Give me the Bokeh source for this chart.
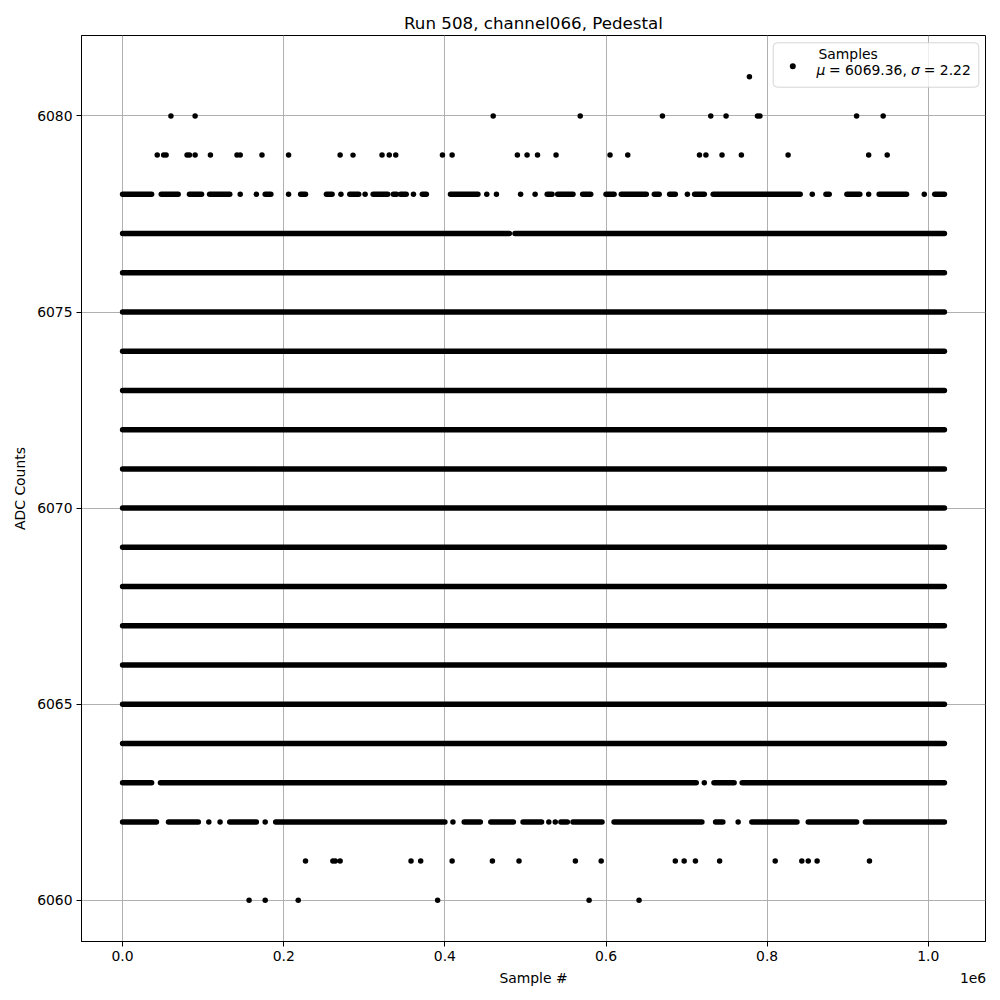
from bokeh.plotting import figure
from bokeh.models import Range1d, FixedTicker, Label, BoxAnnotation, LinearAxis
from bokeh.embed import file_html
from bokeh.resources import INLINE

FONT = "DejaVu Sans"
TITLE = "Run 508, channel066, Pedestal"
X_LABEL = "Sample #"
Y_LABEL = "ADC Counts"
X_TICKS = [0, 200000, 400000, 600000, 800000, 1000000]
X_TICK_LABELS = ["0.0", "0.2", "0.4", "0.6", "0.8", "1.0"]
X_OFFSET_TEXT = "1e6"
Y_TICKS = [6060, 6065, 6070, 6075, 6080]
LEGEND_NAME = "Samples"
MEAN = 6069.36
SIGMA = 2.22
LAST_SAMPLE_K = 1020          # samples run from 0 to ~1,020,000

# ADC levels whose samples cover the whole run (thousands of samples)
full_levels = [6064, 6065, 6066, 6067, 6068, 6069, 6070, 6071, 6072, 6073, 6074, 6075, 6076]

# levels with gaps: runs of consecutive samples (start_k, end_k); start==end is a lone sample
runs_6077 = [(0, 480), (487, 1020)]
runs_6078 = [(0, 36), (48, 69), (83, 98), (108, 133), (146, 146), (166, 166), (177, 184),
             (206, 206), (221, 227), (253, 260), (271, 271), (282, 293), (301, 301),
             (311, 329), (336, 340), (345, 352), (361, 361), (372, 377), (407, 441),
             (452, 452), (464, 464), (494, 494), (512, 512), (527, 533), (540, 559),
             (571, 581), (600, 610), (619, 650), (660, 666), (679, 686), (701, 701),
             (710, 722), (733, 841), (856, 856), (873, 877), (899, 915), (926, 926),
             (939, 973), (995, 995), (1008, 1020)]
runs_6063 = [(0, 36), (47, 712), (722, 722), (734, 759), (769, 1020)]
runs_6062 = [(0, 42), (57, 94), (107, 107), (121, 121), (133, 166), (177, 177), (190, 400),
             (410, 410), (424, 444), (457, 485), (497, 520), (529, 529), (537, 537),
             (544, 552), (559, 595), (610, 719), (736, 745), (764, 764), (781, 837),
             (851, 911), (922, 1020)]

# isolated samples (thousands of samples)
x_6081 = [778]
x_6080 = [60, 90, 460, 568, 670, 730, 749, 788, 791, 911, 944]
x_6079 = [43, 51, 54, 80, 83, 90, 109, 142, 146, 173, 206, 270, 286, 322, 331, 339, 397,
          409, 490, 502, 515, 538, 605, 627, 716, 724, 744, 768, 826, 926, 949]
x_6061 = [227, 261, 264, 270, 358, 370, 409, 459, 492, 562, 594, 686, 697, 711, 741, 810,
          843, 851, 862, 927]
x_6060 = [157, 177, 218, 391, 579, 641]

# ---- assemble glyph data ----
level_runs = [(lv, [(0, LAST_SAMPLE_K)]) for lv in full_levels]
level_runs += [(6077, runs_6077), (6078, runs_6078), (6063, runs_6063), (6062, runs_6062)]
lone = [(6081, x_6081), (6080, x_6080), (6079, x_6079), (6061, x_6061), (6060, x_6060)]

seg_x0, seg_x1, seg_y = [], [], []
pt_x, pt_y = [], []
for lv, runs in level_runs:
    for a, b in runs:
        if b > a:
            seg_x0.append(a * 1000); seg_x1.append(b * 1000); seg_y.append(lv)
        else:
            pt_x.append(a * 1000); pt_y.append(lv)
for lv, xs in lone:
    for a in xs:
        pt_x.append(a * 1000); pt_y.append(lv)

span = LAST_SAMPLE_K * 1000
x_lo, x_hi = -0.05 * span, 1.05 * span
FRAME_W = 1000 - 81 - 15
p = figure(width=1000, height=1000, output_backend="svg", toolbar_location=None,
           x_range=Range1d(x_lo, x_hi),
           y_range=Range1d(6060 - 0.05 * 21, 6081 + 0.05 * 21),
           min_border_left=81, min_border_right=15, min_border_top=35, min_border_bottom=59,
           title=TITLE)
p.background_fill_color = "white"
p.border_fill_color = "white"
p.outline_line_color = "black"
p.outline_line_width = 1

p.title.align = "center"
p.title.text_font = FONT
p.title.text_font_size = "16.7px"
p.title.text_font_style = "normal"
p.title.text_color = "black"
p.title.standoff = 6

p.xaxis.ticker = FixedTicker(ticks=X_TICKS)
p.xaxis.major_label_overrides = {t: s for t, s in zip(X_TICKS, X_TICK_LABELS)}
p.yaxis.ticker = FixedTicker(ticks=Y_TICKS)
p.xaxis.axis_label = X_LABEL
p.yaxis.axis_label = Y_LABEL
for ax in (p.xaxis, p.yaxis):
    ax.axis_label_text_font = FONT
    ax.axis_label_text_font_size = "13.9px"
    ax.axis_label_text_font_style = "normal"
    ax.axis_label_text_color = "black"
    ax.major_label_text_font = FONT
    ax.major_label_text_font_size = "13.9px"
    ax.major_label_text_color = "black"
    ax.major_tick_in = 0
    ax.major_tick_out = 5
    ax.minor_tick_line_color = None
    ax.axis_line_color = "black"
    ax.major_tick_line_color = "black"
    ax.major_label_standoff = 4
    ax.axis_label_standoff = 6
p.grid.grid_line_color = "#b0b0b0"
p.grid.grid_line_width = 1

p.segment(x0=seg_x0, y0=seg_y, x1=seg_x1, y1=seg_y, line_width=5.5,
          line_cap="round", line_color="black")
p.scatter(x=pt_x, y=pt_y, size=5.5, fill_color="black", line_color=None)

# axis offset text "1e6" (an extra, tick-less axis so it can sit outside the frame)
offset_px = 891.5   # centre of the text, pixels from the frame's left edge
offset_x = x_lo + offset_px / FRAME_W * (x_hi - x_lo)
offset_axis = LinearAxis(ticker=FixedTicker(ticks=[offset_x]),
                         major_label_overrides={offset_x: X_OFFSET_TEXT},
                         axis_line_color=None, major_tick_line_color=None,
                         minor_tick_line_color=None, major_tick_in=0, major_tick_out=0,
                         major_label_standoff=-16, major_label_text_font=FONT,
                         major_label_text_font_size="13.9px", major_label_text_color="black")
p.add_layout(offset_axis, "below")

lab_kw = dict(x_units="screen", y_units="screen", text_baseline="alphabetic",
              text_font=FONT, text_font_size="13.9px", text_color="black", level="overlay")

# legend (drawn by hand to reproduce the two-line label)
p.add_layout(BoxAnnotation(left=691.7, right=897.3, bottom=854.3, top=898.7,
                           left_units="screen", right_units="screen",
                           top_units="screen", bottom_units="screen",
                           fill_color="white", fill_alpha=0.8, line_color="#cccccc",
                           line_alpha=0.8, line_width=1, border_radius=4, level="overlay"))
p.add_layout(BoxAnnotation(left=711.3 - 3, right=711.3 + 3, bottom=875.3 - 3,
                           top=875.3 + 3, left_units="screen", right_units="screen",
                           top_units="screen", bottom_units="screen",
                           fill_color="black", fill_alpha=1, line_color=None,
                           border_radius=3, level="overlay"))
p.add_layout(Label(x=737, y=888, text=LEGEND_NAME, **lab_kw))
p.add_layout(Label(x=735, y=871.3, text="μ", text_font_style="italic", **lab_kw))
p.add_layout(Label(x=747.4, y=871.3, text=f"= {MEAN:.2f},", **lab_kw))
p.add_layout(Label(x=829.6, y=871.3, text="σ", text_font_style="italic", **lab_kw))
p.add_layout(Label(x=842.3, y=871.3, text=f"= {SIGMA:.2f}", **lab_kw))

open("out.html", "w").write(file_html(p, INLINE))
